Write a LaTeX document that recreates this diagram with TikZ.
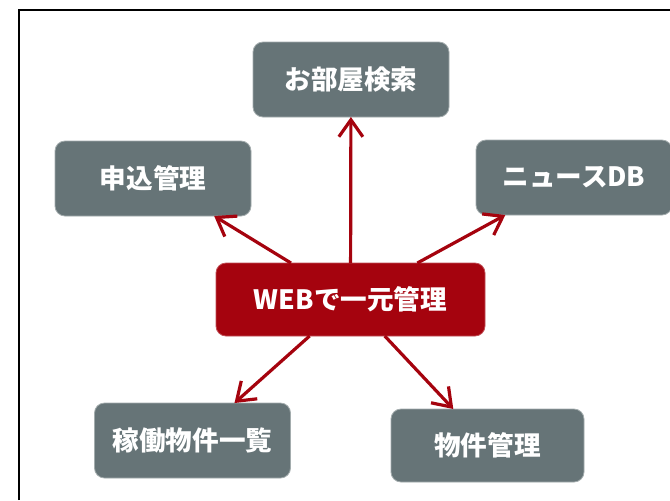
\documentclass[tikz,border=0pt]{standalone}
\usepackage{fontspec}
\newfontfamily\jp{Noto Sans CJK JP}
\usetikzlibrary{arrows.meta}
\definecolor{boxgray}{HTML}{667477}
\definecolor{hubred}{HTML}{A5030E}
\begin{document}
\begin{tikzpicture}[x=0.5pt,y=-0.5pt,
  item/.style={rectangle, rounded corners=5pt, fill=boxgray, draw=boxgray!60!white, line width=0.4pt,
    text=white, font=\jp\bfseries\fontsize{13.3}{16}\selectfont,
    minimum width=98pt, minimum height=37.5pt, inner sep=0pt, outer sep=0pt},
  hub/.style={item, fill=hubred, draw=hubred!70!white, minimum width=134.5pt, minimum height=36.5pt},
  link/.style={draw=hubred, line width=1.6pt, -{Straight Barb[length=8.5pt,width=12pt,line width=1.6pt]}}]
\useasboundingbox (0,0) rectangle (670,500);
\fill[white] (0,0) rectangle (670,500);
\draw[black, line width=1pt] (19,500) -- (19,10) -- (670,10);
\node[item] (search) at (351,79.5) {お部屋検索};
\node[item] (apply) at (153,178.5) {申込管理};
\node[item] (news) at (574,177.5) {ニュースDB};
\node[hub] (web) at (350.5,299.5) {WEBで一元管理};
\node[item] (active) at (192.5,440.5) {稼働物件一覧};
\node[item, minimum width=96.5pt, minimum height=36.5pt] (prop) at (487.5,445.5) {物件管理};
\draw[link] (web) -- (search);
\draw[link] (web) -- (apply);
\draw[link] (web) -- (news);
\draw[link] (web) -- (active);
\draw[link] (web) -- (prop);
\end{tikzpicture}
\end{document}
